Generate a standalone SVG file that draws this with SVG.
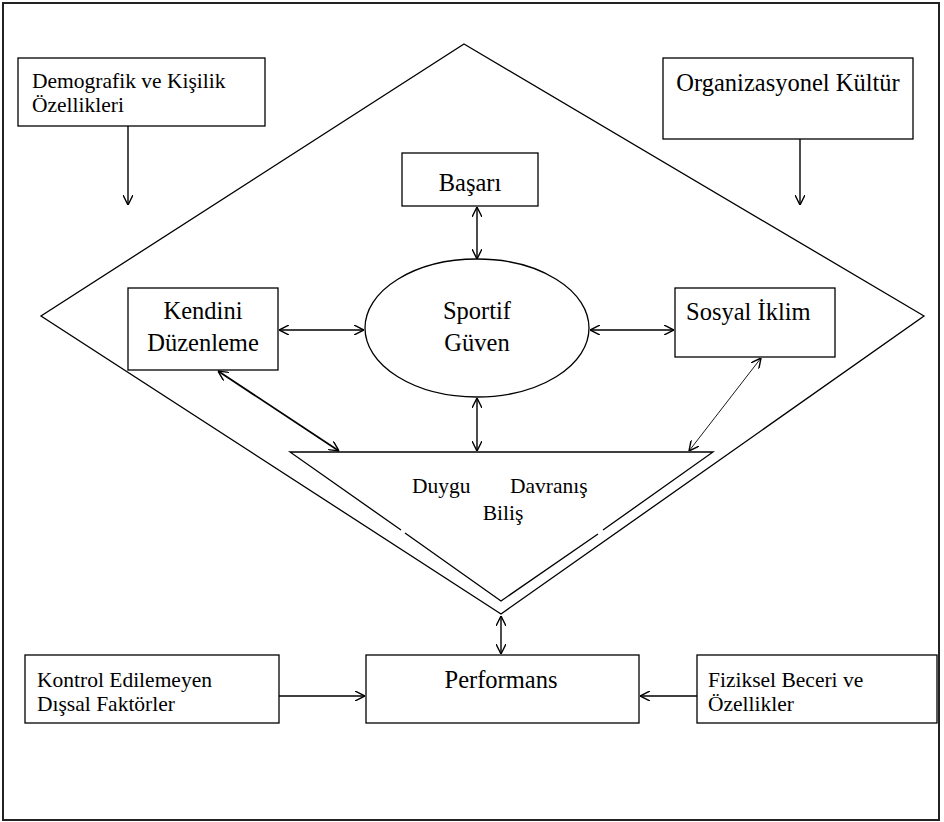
<svg xmlns="http://www.w3.org/2000/svg" width="944" height="822" viewBox="0 0 944 822">
<defs>
<marker id="ah" viewBox="0 0 10 10" refX="10" refY="5" markerWidth="10" markerHeight="10" markerUnits="userSpaceOnUse" orient="auto-start-reverse">
<path d="M0,0 L10,5 L0,10" fill="none" stroke="#000" stroke-width="1.4"/>
</marker>
<style>
.box{fill:#fff;stroke:#000;stroke-width:1.3}
.shape{fill:none;stroke:#000;stroke-width:1.3}
text{font-family:'Liberation Serif','Times New Roman',Times,serif;fill:#000}
.s{font-size:21.5px}
.b{font-size:24.5px}
.c{stroke:#000;stroke-width:1.4;fill:none}
.one{marker-end:url(#ah)}
.two{marker-start:url(#ah);marker-end:url(#ah)}
</style>
</defs>
<rect x="0" y="0" width="944" height="822" fill="#fff"/>
<rect id="frame" x="3" y="3" width="936" height="817" fill="none" stroke="#222" stroke-width="2"/>
<g id="diamond">
<polygon class="shape" points="464,44 924,316 501,614 41,316"/>
</g>
<g id="triangle">
<path class="shape" d="M401,530 L290,452 L713,452 L603,530 M405,533 L501,601 L598,534"/>
<text class="s" x="412" y="493">Duygu</text>
<text class="s" x="510" y="493">Davranış</text>
<text class="s" x="503" y="520" text-anchor="middle">Biliş</text>
</g>
<g id="demografik">
<rect class="box" x="18" y="58" width="247" height="68"/>
<text class="s" x="32" y="88">Demografik ve Kişilik</text>
<text class="s" x="32" y="112">Özellikleri</text>
</g>
<g id="organizasyonel">
<rect class="box" x="663" y="58" width="250" height="81"/>
<text class="b" x="788" y="91" text-anchor="middle">Organizasyonel Kültür</text>
</g>
<g id="basari">
<rect class="box" x="402" y="153" width="136" height="53"/>
<text class="b" x="470" y="191" text-anchor="middle">Başarı</text>
</g>
<g id="sportif">
<ellipse class="box" cx="477" cy="328" rx="112" ry="69"/>
<text class="b" x="477" y="319" text-anchor="middle">Sportif</text>
<text class="b" x="477" y="351" text-anchor="middle">Güven</text>
</g>
<g id="kendini">
<rect class="box" x="128" y="288" width="150" height="82"/>
<text class="b" x="203" y="319" text-anchor="middle">Kendini</text>
<text class="b" x="203" y="351" text-anchor="middle">Düzenleme</text>
</g>
<g id="sosyal">
<rect class="box" x="675" y="288" width="160" height="69"/>
<text class="b" x="686" y="320">Sosyal İklim</text>
</g>
<g id="performans">
<rect class="box" x="366" y="655" width="273" height="68"/>
<text class="b" x="501" y="688" text-anchor="middle">Performans</text>
</g>
<g id="kontrol">
<rect class="box" x="25" y="655" width="254" height="68"/>
<text class="s" x="37" y="687">Kontrol Edilemeyen</text>
<text class="s" x="37" y="711">Dışsal Faktörler</text>
</g>
<g id="fiziksel">
<rect class="box" x="697" y="655" width="240" height="68"/>
<text class="s" x="708" y="687">Fiziksel Beceri ve</text>
<text class="s" x="708" y="711">Özellikler</text>
</g>
<g id="connectors">
<line class="c one" x1="128" y1="126" x2="128" y2="205"/>
<line class="c one" x1="800" y1="139" x2="800" y2="205"/>
<line class="c two" x1="477" y1="207" x2="477" y2="259"/>
<line class="c two" x1="279" y1="330" x2="364" y2="330"/>
<line class="c two" x1="590" y1="330" x2="674" y2="330"/>
<line class="c two" x1="477" y1="398" x2="477" y2="451"/>
<line class="c two" x1="218" y1="371" x2="339" y2="451" style="stroke-width:1.7"/>
<line class="c two" x1="761" y1="358" x2="689" y2="451" style="stroke-width:0.9"/>
<line class="c two" x1="501" y1="616" x2="501" y2="654"/>
<line class="c one" x1="279" y1="696" x2="365" y2="696"/>
<line class="c one" x1="697" y1="696" x2="640" y2="696"/>
</g>
</svg>
